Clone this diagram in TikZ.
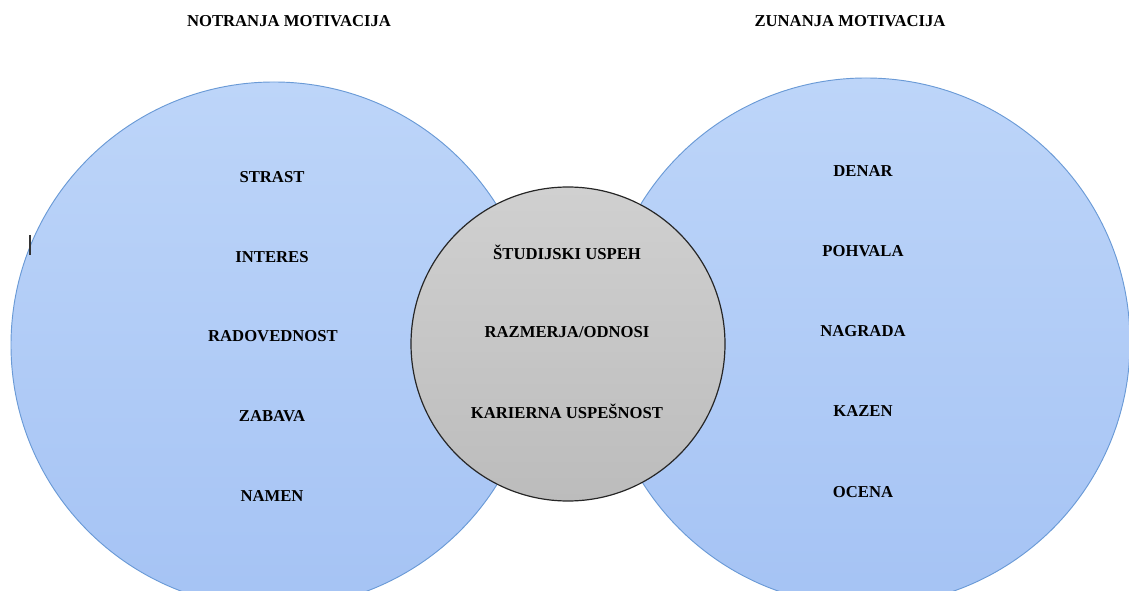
\documentclass[tikz,border=0pt]{standalone}
\usepackage{fontspec}
\setmainfont{Liberation Serif}
\usepackage{tikz}

\definecolor{blueedge}{HTML}{6A9AD6}
\definecolor{bluetop}{HTML}{BDD5F9}
\definecolor{bluebot}{HTML}{A5C3F4}
\definecolor{graytop}{HTML}{D0D0D0}
\definecolor{graybot}{HTML}{BCBCBC}

\tikzset{
  motcircle/.style={circle,draw=blueedge,line width=0.7pt,inner sep=0pt,
    top color=bluetop,bottom color=bluebot},
  midcircle/.style={circle,draw=black!85,line width=0.9pt,inner sep=0pt,
    top color=graytop,bottom color=graybot},
  itemtxt/.style={font=\bfseries\fontsize{12.5}{14}\selectfont,inner sep=1pt},
  titletxt/.style={font=\bfseries\fontsize{12.5}{14}\selectfont,inner sep=1pt}
}

\begin{document}
\begin{tikzpicture}[x=0.75pt,y=-0.75pt]
 \useasboundingbox (0,0) rectangle (1129,591);
 \clip (0,0) rectangle (1129,591);

    % Draw the three circles
    \node[motcircle,minimum size=394.5pt] (notr) at (274,345) {};
    \node[motcircle,minimum size=396pt] (zun) at (866,342) {};
    \node[midcircle,minimum size=235.5pt] (skup) at (568,344) {};

    % Titles
    \node[titletxt] (notrtitle) at (289,21) {NOTRANJA MOTIVACIJA};
    \node[titletxt] (zuntitle) at (850,21) {ZUNANJA MOTIVACIJA};

    % Left circle
    \node[itemtxt] (strast) at (272,177) {STRAST};
    \node[itemtxt] (interes) at (272,257) {INTERES};
    \node[itemtxt] (radov) at (273,336) {RADOVEDNOST};
    \node[itemtxt] (zabava) at (272,416) {ZABAVA};
    \node[itemtxt] (namen) at (272,496) {NAMEN};

    % Right circle
    \node[itemtxt] (denar) at (863,171) {DENAR};
    \node[itemtxt] (pohvala) at (863,251) {POHVALA};
    \node[itemtxt] (nagrada) at (863,331) {NAGRADA};
    \node[itemtxt] (kazen) at (863,411) {KAZEN};
    \node[itemtxt] (ocena) at (863,492) {OCENA};

    % Middle circle
    \node[itemtxt] (studij) at (567,252) {ŠTUDIJSKI USPEH};
    \node[itemtxt] (razmerja) at (567,332) {RAZMERJA/ODNOSI};
    \node[itemtxt] (kariera) at (567,411) {KARIERNA USPEŠNOST};

    % small mark at the left edge
    \draw[line width=0.9pt,black!80] (30,235) coordinate (m1) -- (30,255) coordinate (m2);

\end{tikzpicture}
\end{document}
